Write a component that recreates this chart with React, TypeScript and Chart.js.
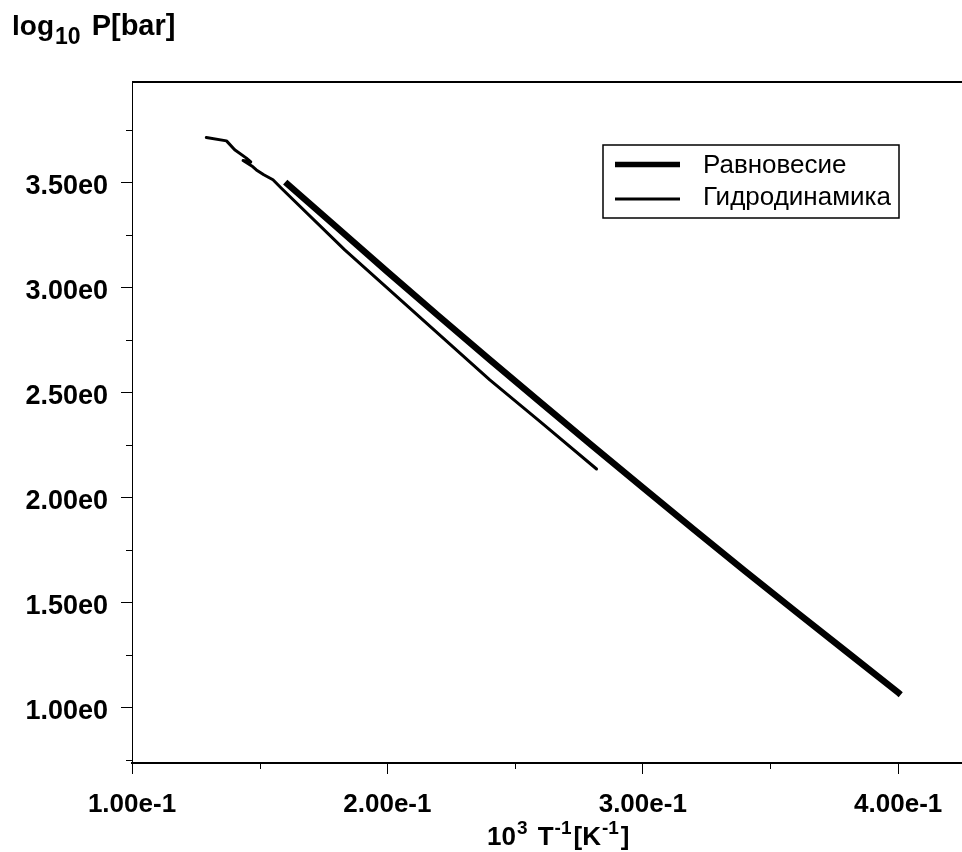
import React, { useEffect, useRef } from 'react';
import { Chart, registerables } from 'chart.js';

Chart.register(...registerables);

// ---- data ----
const seriesNames = ['Равновесие', 'Гидродинамика'];
const eqX = [0.16, 0.18, 0.2, 0.22, 0.24, 0.26, 0.28, 0.3, 0.32, 0.34, 0.36, 0.38, 0.4, 0.401];
const eqY = [3.5, 3.287, 3.074, 2.864, 2.657, 2.452, 2.249, 2.048, 1.848, 1.651, 1.457, 1.265, 1.073, 1.063];
const hydX = [0.1291, 0.137, 0.1402, 0.1448, 0.1465, 0.1435, 0.1469, 0.1487, 0.1516, 0.1552, 0.1585, 0.1833, 0.2401, 0.2597, 0.2819];
const hydY = [3.712, 3.696, 3.654, 3.614, 3.596, 3.603, 3.577, 3.558, 3.535, 3.511, 3.471, 3.178, 2.56, 2.362, 2.136];
const xTicks = [0.1, 0.15, 0.2, 0.25, 0.3, 0.35, 0.4];
const xMajorTicks = [0.1, 0.2, 0.3, 0.4];
const xTickLabels = ['1.00e-1', '2.00e-1', '3.00e-1', '4.00e-1'];
const yTicks = [0.75, 1.0, 1.25, 1.5, 1.75, 2.0, 2.25, 2.5, 2.75, 3.0, 3.25, 3.5, 3.75];
const yMajorTicks = [1.0, 1.5, 2.0, 2.5, 3.0, 3.5];
const yTickLabels = ['1.00e0', '1.50e0', '2.00e0', '2.50e0', '3.00e0', '3.50e0'];

const FONT = '"Liberation Sans", Arial, sans-serif';

const near = (a: number, b: number) => Math.abs(a - b) < 1e-9;
const majorIndex = (list: number[], v: number) => list.findIndex((m) => near(m, v));

type Part = { t: string; size: number; dy: number; gap?: number };

function drawRich(ctx: CanvasRenderingContext2D, parts: Part[], x: number, baseline: number) {
  let cx = x;
  for (const p of parts) {
    ctx.font = `bold ${p.size}px ${FONT}`;
    ctx.fillText(p.t, cx, baseline + p.dy);
    cx += ctx.measureText(p.t).width + (p.gap || 0);
  }
}

const decorPlugin = {
  id: 'decor',
  afterDraw(chart: any) {
    const { ctx, chartArea: a, scales } = chart;
    const x = scales.x;
    const y = scales.y;
    ctx.save();
    ctx.strokeStyle = '#000';
    ctx.fillStyle = '#000';
    // top frame line
    ctx.lineWidth = 2;
    ctx.beginPath();
    ctx.moveTo(a.left, a.top);
    ctx.lineTo(a.right, a.top);
    ctx.stroke();
    // minor ticks
    ctx.lineWidth = 1;
    ctx.beginPath();
    xTicks.forEach((v) => {
      if (majorIndex(xMajorTicks, v) >= 0) return;
      const px = Math.round(x.getPixelForValue(v)) + 0.5;
      ctx.moveTo(px, a.bottom);
      ctx.lineTo(px, a.bottom + 6);
    });
    yTicks.forEach((v) => {
      if (majorIndex(yMajorTicks, v) >= 0) return;
      const py = Math.round(y.getPixelForValue(v)) + 0.5;
      ctx.moveTo(a.left - 6, py);
      ctx.lineTo(a.left, py);
    });
    ctx.stroke();

    // legend
    const ds = chart.data.datasets;
    ctx.lineWidth = 1.5;
    ctx.strokeRect(603, 145, 296, 73);
    const rows = [164.5, 199];
    const bases = [173, 205];
    ds.forEach((d: any, i: number) => {
      ctx.lineWidth = i === 0 ? 5.5 : 3;
      ctx.lineCap = 'butt';
      ctx.beginPath();
      ctx.moveTo(615, rows[i]);
      ctx.lineTo(680, rows[i]);
      ctx.stroke();
      ctx.font = `26px ${FONT}`;
      ctx.textBaseline = 'alphabetic';
      ctx.textAlign = 'left';
      ctx.fillText(d.label, 703, bases[i]);
    });

    // axis titles
    ctx.textBaseline = 'alphabetic';
    ctx.textAlign = 'left';
    drawRich(ctx, [
      { t: 'log', size: 28, dy: 0, gap: 1 },
      { t: '10', size: 23, dy: 9, gap: 3 },
      { t: ' P[bar]', size: 29, dy: 0 },
    ], 12, 35);
    drawRich(ctx, [
      { t: '10', size: 26, dy: 0, gap: 1 },
      { t: '3', size: 19, dy: -11.5, gap: 3 },
      { t: ' T', size: 26, dy: 0, gap: 1 },
      { t: '-1', size: 19, dy: -11.5, gap: 2 },
      { t: '[K', size: 26, dy: 0, gap: 1 },
      { t: '-1', size: 19, dy: -11.5, gap: 2 },
      { t: ']', size: 26, dy: 0 },
    ], 487, 845);
    ctx.restore();
  },
};

export default function App() {
  const ref = useRef<HTMLCanvasElement | null>(null);
  useEffect(() => {
    if (!ref.current) return;
    const chart = new Chart(ref.current, {
      type: 'scatter',
      data: {
        datasets: [
          {
            label: seriesNames[0],
            data: eqX.map((v, i) => ({ x: v, y: eqY[i] })),
            showLine: true,
            borderColor: '#000',
            backgroundColor: '#000',
            borderWidth: 6.5,
            borderCapStyle: 'butt',
            borderJoinStyle: 'round',
            pointRadius: 0,
            tension: 0,
          },
          {
            label: seriesNames[1],
            data: hydX.map((v, i) => ({ x: v, y: hydY[i] })),
            showLine: true,
            borderColor: '#000',
            backgroundColor: '#000',
            borderWidth: 3,
            borderCapStyle: 'round',
            borderJoinStyle: 'round',
            pointRadius: 0,
            tension: 0,
          },
        ],
      },
      options: {
        animation: false,
        responsive: false,
        maintainAspectRatio: false,
        devicePixelRatio: 1,
        layout: { padding: { top: 82, right: 0, bottom: 0, left: 0 } },
        plugins: { legend: { display: false }, tooltip: { enabled: false }, title: { display: false } },
        scales: {
          x: {
            type: 'linear',
            position: 'bottom',
            min: 0.1,
            max: 0.425,
            afterBuildTicks: (s: any) => {
              s.ticks = xTicks.map((v) => ({ value: v }));
            },
            afterFit: (s: any) => {
              s.height = 89;
            },
            border: { display: true, color: '#000', width: 2 },
            grid: {
              drawOnChartArea: false,
              drawTicks: true,
              tickLength: 11,
              lineWidth: 1,
              color: (c: any) => (c.tick && majorIndex(xMajorTicks, c.tick.value) >= 0 ? '#000' : 'rgba(0,0,0,0)'),
            },
            ticks: {
              autoSkip: false,
              maxRotation: 0,
              padding: 15,
              color: '#000',
              font: { family: FONT, size: 26, weight: 'bold' },
              callback: (v: any) => {
                const i = majorIndex(xMajorTicks, Number(v));
                return i >= 0 ? xTickLabels[i] : '';
              },
            },
          },
          y: {
            type: 'linear',
            position: 'left',
            min: 0.738,
            max: 3.976,
            afterBuildTicks: (s: any) => {
              s.ticks = yTicks.map((v) => ({ value: v }));
            },
            afterFit: (s: any) => {
              s.width = 132;
            },
            border: { display: true, color: '#000', width: 1 },
            grid: {
              drawOnChartArea: false,
              drawTicks: true,
              tickLength: 11,
              lineWidth: 1,
              color: (c: any) => (c.tick && majorIndex(yMajorTicks, c.tick.value) >= 0 ? '#000' : 'rgba(0,0,0,0)'),
            },
            ticks: {
              autoSkip: false,
              padding: 13,
              labelOffset: 4,
              color: '#000',
              font: { family: FONT, size: 27, weight: 'bold' },
              callback: (v: any) => {
                const i = majorIndex(yMajorTicks, Number(v));
                return i >= 0 ? yTickLabels[i] : '';
              },
            },
          },
        },
      },
      plugins: [decorPlugin],
    } as any);
    return () => chart.destroy();
  }, []);

  return (
    <div style={{ position: 'fixed', left: 0, top: 0, width: 962, height: 852, background: '#fff' }}>
      <canvas ref={ref} width={962} height={852} style={{ display: 'block', width: 962, height: 852 }} />
    </div>
  );
}
